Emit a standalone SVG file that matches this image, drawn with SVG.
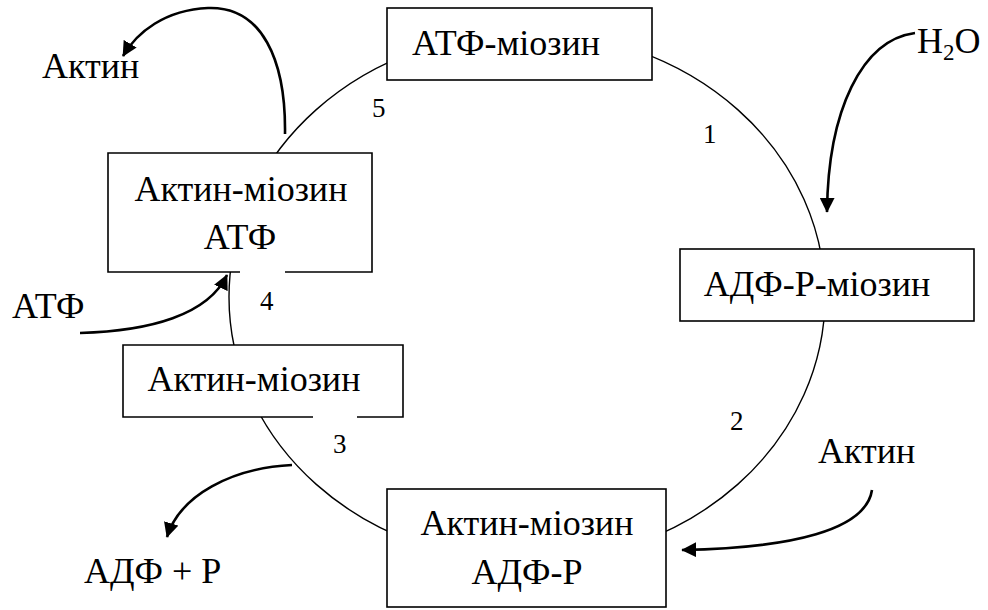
<svg xmlns="http://www.w3.org/2000/svg" width="988" height="610" viewBox="0 0 988 610">
  <style>
    .box { fill: #ffffff; stroke: #000000; stroke-width: 1.6; }
    .edge { fill: none; stroke: #000000; stroke-width: 1.6; }
    .cycle { fill: none; stroke: #000000; stroke-width: 1.4; }
    .flow { fill: none; stroke: #000000; stroke-width: 2.6; marker-end: url(#head); }
    text { font-family: "Liberation Serif", "Times New Roman", serif; fill: #000000; }
    .lbl { font-size: 36px; }
    .num { font-size: 27px; }
    .mid { text-anchor: middle; }
  </style>
  <defs>
    <marker id="head" viewBox="0 0 10 10" refX="9.5" refY="5" markerWidth="15" markerHeight="15" markerUnits="userSpaceOnUse" orient="auto">
      <path d="M0,0 L10,5 L0,10 z" fill="#000000"/>
    </marker>
  </defs>

  <!-- reaction cycle and substrate/product arrows -->
  <g id="connectors">
    <ellipse class="cycle" cx="527" cy="297" rx="298" ry="265"/>
    <!-- released actin -->
    <path class="flow" d="M285,134 C286,60 262,6 208,8 C165,10 137,32 123,56"/>
    <!-- water in -->
    <path class="flow" d="M915,33 C862,40 828,110 827,212"/>
    <!-- ATP in -->
    <path class="flow" d="M80,333 C150,331 208,315 227,275"/>
    <!-- ADP + P out -->
    <path class="flow" d="M292,465 C232,468 180,495 167,537"/>
    <!-- actin in -->
    <path class="flow" d="M872,490 C866,530 792,548 682,550"/>
  </g>

  <g id="atp-myosin">
    <rect class="box" x="387" y="8" width="265" height="72"/>
    <text class="lbl mid" x="506" y="55">АТФ-міозин</text>
  </g>

  <g id="adp-p-myosin">
    <rect class="box" x="680" y="249" width="294" height="72"/>
    <text class="lbl mid" x="817" y="296">АДФ-Р-міозин</text>
  </g>

  <g id="actomyosin-adp-p">
    <rect class="box" x="387" y="489" width="279" height="118"/>
    <text class="lbl mid" x="527" y="535">Актин-міозин</text>
    <text class="lbl mid" x="527" y="584">АДФ-Р</text>
  </g>

  <g id="actomyosin">
    <rect x="123" y="345" width="280" height="72" fill="#ffffff"/>
    <path class="edge" d="M313,417 H123 V345 H403 V417 H357"/>
    <text class="lbl mid" x="254" y="391">Актин-міозин</text>
  </g>

  <g id="actomyosin-atp">
    <rect x="108" y="153" width="264" height="119" fill="#ffffff"/>
    <path class="edge" d="M240,272 H108 V153 H372 V272 H285"/>
    <text class="lbl mid" x="241" y="201">Актин-міозин</text>
    <text class="lbl mid" x="240" y="249">АТФ</text>
  </g>

  <!-- free species -->
  <g id="labels">
    <text class="lbl" x="42" y="78">Актин</text>
    <text class="lbl" x="917" y="53">H<tspan font-size="23" dy="7">2</tspan><tspan dy="-7">O</tspan></text>
    <text class="lbl" x="12" y="318">АТФ</text>
    <text class="lbl" x="84" y="583">АДФ + Р</text>
    <text class="lbl" x="818" y="463">Актин</text>
  </g>

  <!-- step numbers -->
  <g id="steps">
    <text class="num" x="372" y="117">5</text>
    <text class="num" x="703" y="143">1</text>
    <text class="num" x="730" y="430">2</text>
    <text class="num" x="333" y="453">3</text>
    <text class="num" x="260" y="310">4</text>
  </g>
</svg>
